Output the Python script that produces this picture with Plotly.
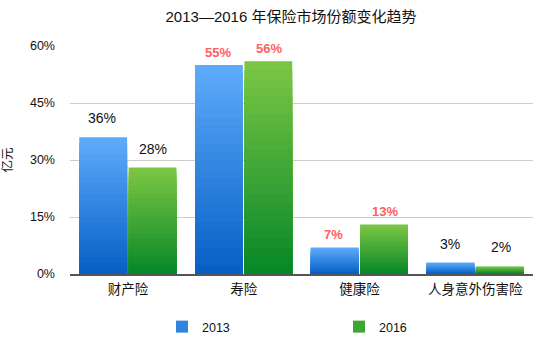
import plotly.graph_objects as go

categories = ["财产险", "寿险", "健康险", "人身意外伤害险"]
years = ["2013", "2016"]
values_2013 = [36, 55, 7, 3]
values_2016 = [28, 56, 13, 2]
labels_2013 = ["36%", "55%", "7%", "3%"]
labels_2016 = ["28%", "56%", "13%", "2%"]
highlight = [False, True, True, False]
y_ticks = [0, 15, 30, 45, 60]
y_ticklabels = ["0%", "15%", "30%", "45%", "60%"]

FONT = "Liberation Sans, Arial, Noto Sans CJK SC, sans-serif"
# gradient colours: (top, bottom)
grad = {"2013": ((92, 170, 250), (8, 96, 198)),
        "2016": ((122, 198, 68), (8, 136, 40))}
N_STEPS = 24


def mix(c1, c2, t):
    return "rgb(%d,%d,%d)" % tuple(round(a + (b - a) * t) for a, b in zip(c1, c2))


fig = go.Figure()
for yr, vals in zip(years, [values_2013, values_2016]):
    top, bot = grad[yr]
    for i in range(N_STEPS):
        frac = (N_STEPS - i) / N_STEPS  # overlay shorter, darker bars
        t = i / (N_STEPS - 1)
        fig.add_trace(go.Bar(
            x=categories, y=[v * frac for v in vals], name=yr,
            offsetgroup=yr, legendgroup=yr,
            showlegend=(i == N_STEPS // 2),
            marker=dict(color=mix(top, bot, t), line=dict(width=0)),
            hoverinfo="skip",
        ))

annotations = []
for vals, labs, shift in [(values_2013, labels_2013, -25.5), (values_2016, labels_2016, 25.5)]:
    for c, v, lab, hl in zip(categories, vals, labs, highlight):
        annotations.append(dict(
            x=c, y=v, text=lab, showarrow=False, xshift=shift,
            yshift=13 if hl else 19, yanchor="middle",
            font=dict(family=FONT, size=13 if hl else 14,
                      color="#ff6060" if hl else "#111111",
                      weight="bold" if hl else "normal"),
        ))

fig.update_layout(
    width=540, height=340,
    margin=dict(l=68, r=7, t=46, b=66),
    paper_bgcolor="white", plot_bgcolor="white",
    font=dict(family=FONT, size=12, color="#111"),
    title=dict(text="2013—2016 年保险市场份额变化趋势", x=291/540, xanchor="center",
               y=1-17/340, yanchor="middle", yref="container",
               font=dict(size=15, color="#111")),
    barmode="group", bargap=0.147, bargroupgap=0.03,
    xaxis=dict(showline=True, linecolor="#555", linewidth=1.5, ticks="",
               ticklabelstandoff=2,
               tickfont=dict(size=13.5, color="#111"), fixedrange=True),
    yaxis=dict(range=[0, 60], tickvals=y_ticks, ticktext=y_ticklabels,
               showgrid=True, gridcolor="#cccccc", gridwidth=1, zeroline=False,
               ticks="", ticklabelstandoff=14,
               tickfont=dict(size=12.5, color="#111"),
               title=dict(text="亿元", font=dict(size=12.5, color="#111"), standoff=14)),
    legend=dict(orientation="h", xref="container", yref="container",
                x=162/540, xanchor="left", y=1-327/340, yanchor="middle",
                entrywidth=132, entrywidthmode="pixels",
                font=dict(size=12.5, color="#111"), itemwidth=30),
    annotations=annotations,
    showlegend=True,
)

fig.write_html("out.html")
